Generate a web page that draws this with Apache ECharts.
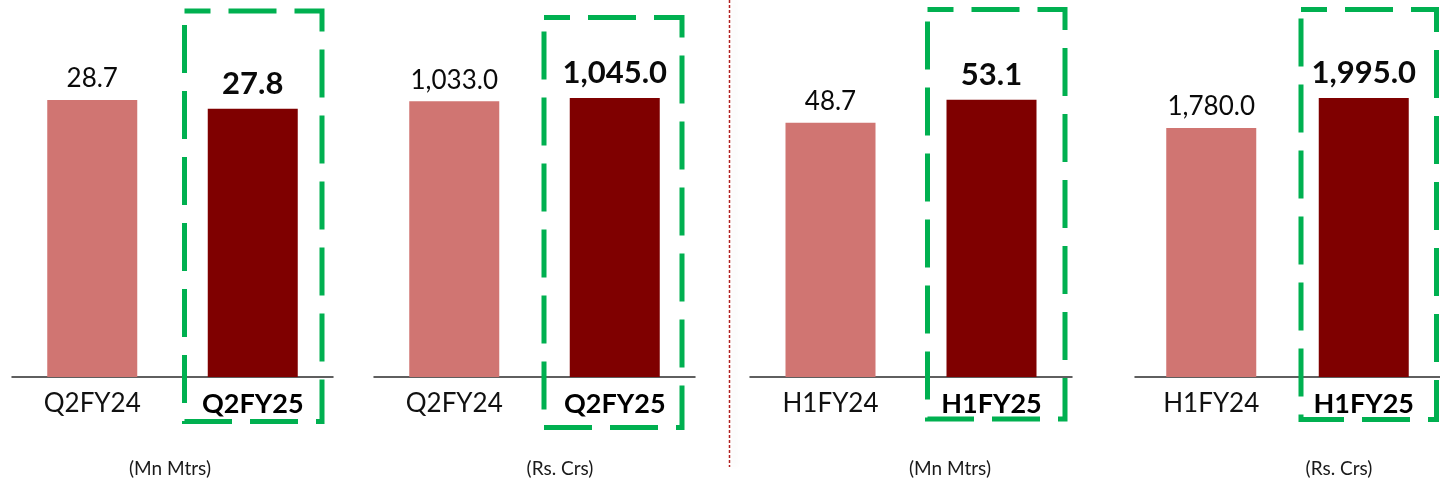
<!DOCTYPE html>
<html>
<head>
<meta charset="utf-8">
<script src="https://cdn.jsdelivr.net/npm/echarts@6/dist/echarts.min.js"></script>
<style>
  html, body { margin: 0; padding: 0; background: #ffffff; }
  #chart { width: 1440px; height: 483px; }
</style>
</head>
<body>
<div id="chart"></div>
<script>
// Volume and revenue comparison, quarter and half-year
const q2Categories = ['Q2FY24', 'Q2FY25'];
const h1Categories = ['H1FY24', 'H1FY25'];

const q2Volume = [28.7, 27.8];      // Mn Mtrs
const q2Revenue = [1033.0, 1045.0]; // Rs. Crs
const h1Volume = [48.7, 53.1];      // Mn Mtrs
const h1Revenue = [1780.0, 1995.0]; // Rs. Crs

const unitLabels = ['(Mn Mtrs)', '(Rs. Crs)', '(Mn Mtrs)', '(Rs. Crs)'];

const FONT = 'Lato, "Liberation Sans", sans-serif';
const PRIOR_COLOR = '#D07572';
const CURRENT_COLOR = '#7F0000';
const BOX_GREEN = '#00B050';

const panels = [
  { cats: q2Categories, data: q2Volume,  left: 12,   width: 321, max: 37 },
  { cats: q2Categories, data: q2Revenue, left: 374,  width: 321, max: 1337 },
  { cats: h1Categories, data: h1Volume,  left: 750,  width: 322, max: 68.4 },
  { cats: h1Categories, data: h1Revenue, left: 1135, width: 321, max: 2552 }
];

function fmt(v) {
  return v.toLocaleString('en-US', { minimumFractionDigits: 1, maximumFractionDigits: 1 });
}

const grids = [], xAxes = [], yAxes = [], series = [];
panels.forEach((p, i) => {
  grids.push({ left: p.left, width: p.width, top: 20, bottom: 106, containLabel: false });
  xAxes.push({
    type: 'category',
    gridIndex: i,
    data: p.cats.map((c, k) => k === 1
      ? { value: c, textStyle: { fontWeight: 'bold', fontSize: 27, fontFamily: FONT, color: '#000' } }
      : c),
    axisLine: { show: true, lineStyle: { color: '#2b2b2b', width: 1.5 } },
    axisTick: { show: false },
    axisLabel: {
      interval: 0,
      hideOverlap: false,
      margin: 14,
      fontFamily: FONT,
      fontSize: 26,
      color: '#111'
    }
  });
  yAxes.push({
    type: 'value',
    gridIndex: i,
    min: 0,
    max: p.max,
    show: false,
    splitLine: { show: false }
  });
  series.push({
    type: 'bar',
    xAxisIndex: i,
    yAxisIndex: i,
    barWidth: 90,
    silent: true,
    data: p.data.map((v, k) => ({
      value: v,
      itemStyle: { color: k === 0 ? PRIOR_COLOR : CURRENT_COLOR },
      label: k === 0
        ? { fontSize: 26, fontWeight: 'normal', distance: 8 }
        : { fontSize: 31, fontWeight: 'bold', distance: 9 }
    })),
    label: {
      show: true,
      position: 'top',
      fontFamily: FONT,
      color: '#0a0a0a',
      formatter: (d) => fmt(d.value)
    }
  });
});

// Dashed highlight frames around the current-period bars
const frames = [
  { x: 184.5, y: 11,  w: 137.5, h: 410.5 },
  { x: 544,   y: 17.5, w: 138,  h: 410 },
  { x: 927.5, y: 9.5, w: 137.5, h: 409.5 },
  { x: 1301,  y: 9.5, w: 135.5, h: 410 }
];
const unitPos = [170, 560, 950, 1339];

const graphics = [];
frames.forEach(f => {
  graphics.push({
    type: 'rect',
    silent: true,
    z: 10,
    shape: { x: f.x, y: f.y, width: f.w, height: f.h },
    style: {
      fill: 'none',
      stroke: BOX_GREEN,
      lineWidth: 5,
      lineDash: [48, 18],
      lineDashOffset: 22
    }
  });
});
unitLabels.forEach((t, i) => {
  graphics.push({
    type: 'text',
    silent: true,
    x: unitPos[i],
    y: 469,
    style: {
      text: t,
      fontFamily: FONT,
      fontSize: 19,
      fill: '#1a1a1a',
      align: 'center',
      verticalAlign: 'middle'
    }
  });
});
// Dotted divider between quarter and half-year sections
graphics.push({
  type: 'line',
  silent: true,
  shape: { x1: 729.5, y1: 0, x2: 729.5, y2: 467 },
  style: {
    stroke: '#B22020',
    lineWidth: 1.5,
    lineDash: [3, 2],
    shadowColor: 'rgba(0,0,0,0.12)',
    shadowBlur: 6,
    shadowOffsetX: 5
  }
});

const chart = echarts.init(document.getElementById('chart'), null, { renderer: 'canvas' });
chart.setOption({
  animation: false,
  backgroundColor: '#ffffff',
  grid: grids,
  xAxis: xAxes,
  yAxis: yAxes,
  series: series,
  graphic: graphics
});
</script>
</body>
</html>
